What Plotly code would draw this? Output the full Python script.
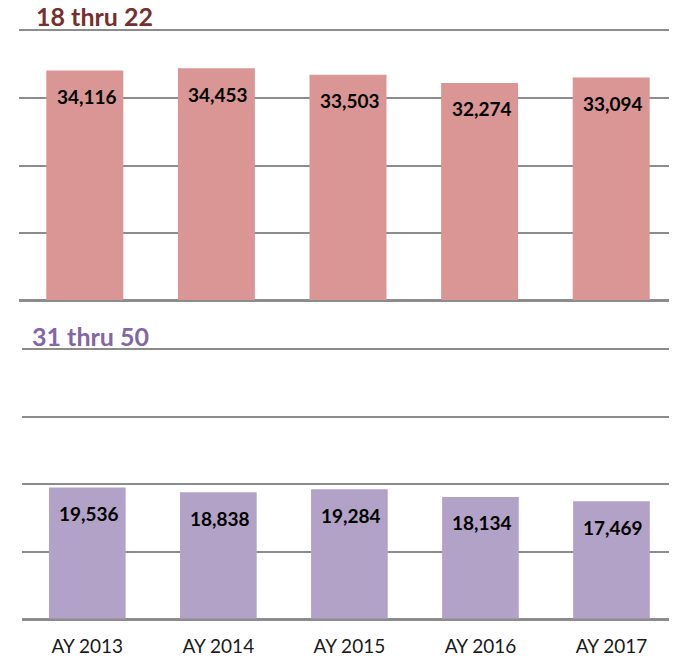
import plotly.graph_objects as go

categories = ["AY 2013", "AY 2014", "AY 2015", "AY 2016", "AY 2017"]
top_values = [34116, 34453, 33503, 32274, 33094]
bottom_values = [19536, 18838, 19284, 18134, 17469]
top_title = "18 thru 22"
bottom_title = "31 thru 50"

# page has an 8px default body margin; work in page pixels and subtract it
OFF = 8
W, H = 677 - OFF, 657 - OFF
FONT = "Lato"
GRID = "#8c8c8c"


def px_x(p):
    return (p - OFF) / W


def px_y(p):
    return 1 - (p - OFF) / H


fig = go.Figure()
fig.add_trace(go.Bar(x=categories, y=top_values, marker=dict(color="#D99694", line=dict(width=0)),
                     width=0.585, xaxis="x", yaxis="y", hoverinfo="x+y"))
fig.add_trace(go.Bar(x=categories, y=bottom_values, marker=dict(color="#B3A2C7", line=dict(width=0)),
                     width=0.585, xaxis="x2", yaxis="y2", hoverinfo="x+y"))

annots = []
for c, v in zip(categories, top_values):
    annots.append(dict(x=c, y=v, xref="x", yref="y", text=f"<b>{v:,}</b>", showarrow=False,
                       yshift=-26, xshift=2, yanchor="middle",
                       font=dict(family=FONT, size=19, color="#000000")))
for c, v in zip(categories, bottom_values):
    annots.append(dict(x=c, y=v, xref="x2", yref="y2", text=f"<b>{v:,}</b>", showarrow=False,
                       yshift=-26, xshift=2, yanchor="middle",
                       font=dict(family=FONT, size=19, color="#000000")))
annots.append(dict(x=px_x(35), y=px_y(16.5), xref="paper", yref="paper", text=f"<b>{top_title}</b>",
                   showarrow=False, xanchor="left", yanchor="middle", borderpad=0,
                   font=dict(family=FONT, size=25, color="#772F2E")))
annots.append(dict(x=px_x(31), y=px_y(335.5), xref="paper", yref="paper", text=f"<b>{bottom_title}</b>",
                   showarrow=False, xanchor="left", yanchor="middle", borderpad=0,
                   font=dict(family=FONT, size=25, color="#8266A5")))

yax = dict(range=[0, 40000], dtick=10000, showgrid=True, gridcolor=GRID, gridwidth=1.6,
           zeroline=True, zerolinecolor=GRID, zerolinewidth=1.6, showticklabels=False,
           showline=False, fixedrange=True)
xline = dict(showline=True, mirror=True, linecolor=GRID, linewidth=1.6)

fig.update_layout(
    width=W, height=H,
    margin=dict(l=0, r=0, t=0, b=0),
    paper_bgcolor="white", plot_bgcolor="white",
    showlegend=False,
    xaxis=dict(domain=[px_x(19), 1.0], showticklabels=False, showgrid=False, zeroline=False,
               anchor="y", range=[-0.5, 4.5], **xline),
    yaxis=dict(domain=[px_y(300), px_y(31)], anchor="x", **yax),
    xaxis2=dict(domain=[px_x(21.8), 1.0], showgrid=False, zeroline=False, anchor="y2",
                range=[-0.5, 4.5], ticks="outside", ticklen=10, tickcolor="rgba(0,0,0,0)",
                tickfont=dict(family=FONT, size=19, color="#1a1a1a"), **xline),
    yaxis2=dict(domain=[px_y(618.7), px_y(350)], anchor="x2", **yax),
    annotations=annots,
)

fig.write_html("out.html")
